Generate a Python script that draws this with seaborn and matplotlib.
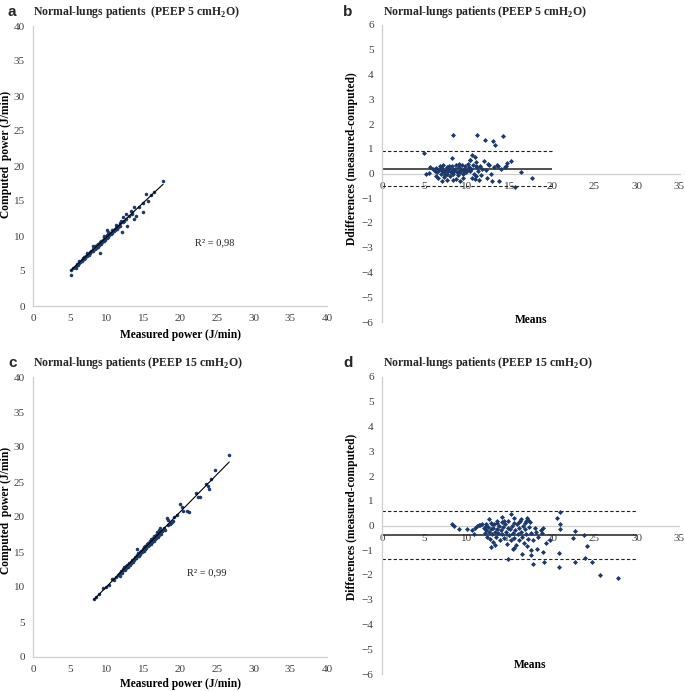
import numpy as np
import pandas as pd
import matplotlib
matplotlib.use("Agg")
import matplotlib.pyplot as plt
import seaborn as sns

# ---------------- data ----------------
# Panel a: PEEP 5, measured vs computed power (J/min)
a_measured = [17.7, 16.4, 15.4, 15.6, 14.9, 15.0, 13.8, 13.8, 14.0, 13.3, 13.5, 12.7, 12.8, 12.6,
              12.3, 12.0, 12.1, 9.1, 5.2, 5.15,
              5.5, 5.7, 5.9, 6.0, 6.1, 6.3, 6.4, 6.5, 6.6, 6.7, 6.8, 6.9, 7.0, 7.1, 7.2, 7.3, 7.4,
              7.5, 7.6, 7.7, 7.8, 7.9, 8.0, 8.1, 8.2, 8.3, 8.4, 8.5, 8.6, 8.7, 8.8, 8.9, 9.0, 9.1,
              9.2, 9.3, 9.4, 9.5, 9.6, 9.7, 9.8, 9.9, 10.0, 10.1, 10.2, 10.3, 10.4, 10.5, 10.6,
              10.7, 10.8, 10.9, 11.0, 11.1, 11.2, 11.3, 11.4, 11.5, 11.6, 11.8, 11.9, 12.2, 12.4,
              8.2, 10.2, 9.6, 7.3, 6.2, 5.8, 11.3, 13.0, 13.5, 14.4, 16.0, 10.1, 8.9, 7.6, 11.7]
a_computed = [17.9, 16.3, 16.0, 15.0, 14.7, 13.5, 14.2, 12.4, 12.8, 13.6, 13.4, 13.1, 11.5, 12.5,
              12.7, 12.2, 10.6, 7.6, 4.5, 5.2,
              5.4, 5.6, 5.7, 6.0, 5.9, 6.2, 6.3, 6.4, 6.6, 6.5, 6.8, 6.7, 7.0, 6.9, 7.2, 7.1, 7.3,
              7.5, 7.4, 7.7, 7.6, 7.9, 7.8, 8.1, 7.9, 8.3, 8.2, 8.6, 8.3, 8.7, 8.5, 8.9, 8.7, 9.1,
              8.9, 9.3, 9.1, 9.5, 9.3, 9.8, 9.5, 9.9, 9.7, 10.1, 9.9, 10.4, 10.1, 10.5, 10.3,
              10.8, 10.5, 10.9, 10.7, 11.0, 10.9, 11.2, 11.0, 11.3, 11.4, 11.5, 11.8, 12.0, 12.2,
              8.6, 10.6, 10.0, 7.6, 6.4, 5.5, 11.6, 12.9, 13.2, 14.2, 15.8, 10.8, 8.6, 7.3, 11.4]

# Panel b: PEEP 5, Bland-Altman (means, differences)
b_means = [8.35, 11.2, 12.1, 13.0, 13.3, 14.2, 4.9, 8.2, 10.6, 10.35, 15.2, 14.75, 14.5, 16.3,
           17.7, 15.6, 13.8, 12.9, 12.4, 10.9, 11.1, 9.2, 8.7, 7.7, 7.1, 6.6, 6.3, 5.2, 5.5, 5.6,
           6.0, 6.2, 6.4, 6.5, 6.7, 6.8, 6.9, 7.0, 7.1, 7.2, 7.3, 7.4, 7.5, 7.6, 7.7, 7.8, 7.9,
           8.0, 8.1, 8.2, 8.3, 8.4, 8.5, 8.6, 8.8, 8.9, 9.0, 9.1, 9.2, 9.3, 9.4, 9.5, 9.6, 9.7,
           9.8, 9.9, 10.0, 10.1, 10.2, 10.4, 10.5, 10.7, 10.8, 11.0, 11.2, 11.3, 11.5, 11.6, 11.8,
           12.0, 12.2, 12.5, 12.6, 12.8, 13.2, 13.5, 13.6, 14.0, 14.6, 11.4, 10.6, 9.5, 8.3, 7.3,
           6.9, 8.7, 9.0, 10.3, 10.9, 11.1, 7.9]
b_diffs = [1.54, 1.56, 1.37, 1.32, 1.15, 1.51, 0.81, 0.62, 0.73, 0.55, 0.51, 0.43, 0.26, 0.08,
           -0.2, -0.54, -0.32, -0.32, -0.19, -0.22, -0.1, -0.31, -0.21, -0.27, -0.32, -0.2, -0.1,
           -0.04, 0.03, 0.27,
           0.18, 0.12, 0.22, 0.05, 0.15, 0.30, 0.0, 0.1, 0.2, 0.35, 0.05, -0.05, 0.15, 0.25, 0.0,
           0.1, 0.2, -0.1, 0.05, 0.3, 0.15, 0.0, 0.1, 0.2, 0.05, -0.05, 0.12, 0.25, 0.05, 0.15,
           0.35, 0.0, 0.2, 0.1, 0.3, 0.05, 0.15, 0.4, 0.25, 0.1, 0.2, 0.35, 0.0, 0.45, 0.25, 0.1,
           0.3, -0.05, 0.2, 0.5, 0.15, 0.4, 0.35, 0.0, 0.25, 0.35, 0.3, 0.2, 0.3, -0.25, -0.2,
           -0.2, -0.25, -0.15, 0.25, 0.35, 0.4, 0.55, 0.65, 0.3, 0.3]
b_bias, b_upper, b_lower = 0.2, 0.9, -0.5
b_line_end = 20

# Panel c: PEEP 15, measured vs computed power (J/min)
c_measured = [8.3, 8.6, 9.0, 9.5, 9.9, 10.3, 10.7, 11.0, 11.3, 11.5, 11.7, 11.8, 12.0, 12.1, 12.2,
              12.3, 12.4, 12.5, 12.6, 12.7, 12.8, 12.9, 13.0, 13.1, 13.2, 13.3, 13.4, 13.5, 13.6,
              13.7, 13.8, 13.9, 14.0, 14.1, 14.1, 14.2, 14.3, 14.4, 14.5, 14.6, 14.7, 14.8, 14.9,
              15.0, 15.1, 15.2, 15.3, 15.4, 15.5, 15.6, 15.7, 15.8, 15.9, 16.0, 16.1, 16.2, 16.3,
              16.4, 16.5, 16.6, 16.7, 16.8, 16.9, 17.0, 17.1, 17.2, 17.3, 17.4, 17.6, 17.8, 18.0,
              18.2, 18.3, 18.4, 18.6, 18.8, 19.0, 19.2, 19.6, 20.0, 20.3, 20.4, 20.9, 21.2, 22.2,
              22.4, 22.7, 23.5, 23.8, 23.9, 24.2, 24.7, 26.7,
              12.9, 13.3, 13.6, 14.0, 14.5, 15.0, 15.3, 15.7, 16.1, 16.6, 17.0, 17.3, 12.1, 12.6,
              13.1, 14.8, 15.6, 16.3, 16.9, 17.5, 18.9, 11.9, 10.9, 15.1]
c_computed = [8.3, 8.6, 9.0, 9.9, 10.0, 10.3, 11.1, 11.0, 11.5, 11.7, 11.9, 11.6, 12.3, 12.0, 12.6,
              12.4, 12.8, 12.5, 13.0, 12.7, 13.2, 12.9, 13.3, 13.5, 13.1, 13.6, 13.4, 13.9, 13.6,
              14.0, 13.8, 14.3, 14.1, 14.6, 15.5, 14.4, 14.8, 14.5, 15.0, 14.7, 15.2, 15.0, 15.5,
              15.2, 15.7, 15.4, 15.9, 15.6, 16.1, 15.8, 16.3, 16.0, 16.6, 16.2, 16.8, 16.4, 17.0,
              16.6, 17.3, 16.8, 17.5, 17.0, 17.8, 17.2, 18.2, 17.4, 18.5, 17.6, 18.0, 18.4, 18.2,
              19.8, 18.8, 19.6, 19.0, 19.2, 19.4, 20.0, 20.3, 21.8, 21.5, 20.8, 20.9, 20.7, 23.5,
              22.8, 22.9, 24.7, 24.5, 24.0, 25.5, 26.7, 28.8,
              13.1, 13.4, 13.9, 14.2, 14.7, 15.3, 15.5, 16.0, 16.4, 17.1, 17.5, 17.7, 12.3, 12.9,
              13.2, 15.1, 16.0, 16.7, 17.2, 18.0, 19.3, 12.0, 11.2, 15.2]

# Panel d: PEEP 15, Bland-Altman (means, differences)
d_means = [8.3, 8.5, 9.05, 10.0, 10.9, 11.4, 11.6, 12.6, 12.8, 13.1, 15.2, 14.9, 16.1, 15.5, 16.5,
           17.1, 17.2, 17.5, 17.5, 17.75, 18.3, 18.2, 19.0, 19.0, 19.1, 19.8, 20.8, 20.9, 21.0,
           21.0, 21.0, 22.8, 22.5, 22.8, 23.8, 23.9, 24.2, 24.8, 25.7, 27.8,
           11.8, 12.0, 12.1, 12.2, 12.3, 12.4, 12.5, 12.6, 12.7, 12.8, 12.9, 13.0, 13.1, 13.2,
           13.3, 13.4, 13.5, 13.6, 13.7, 13.8, 13.9, 14.0, 14.1, 14.2, 14.3, 14.4, 14.5, 14.6,
           14.7, 14.8, 14.9, 15.0, 15.1, 15.2, 15.3, 15.4, 15.5, 15.6, 15.7, 15.8, 15.9, 16.0,
           16.1, 16.2, 16.3, 16.4, 16.5, 16.6, 16.7, 16.8, 16.9, 17.0, 17.1, 17.2, 17.3, 17.4,
           17.6, 17.8, 18.0, 18.4, 18.7, 11.0, 10.6, 11.2, 13.6, 14.4, 15.6, 16.4, 13.3, 15.4,
           14.2, 13.0, 12.3, 17.0, 18.9, 19.3, 20.6]
d_diffs = [0.06, -0.01, -0.15, -0.15, -0.35, 0.02, 0.03, 0.26, -0.85, -0.66, 0.46, -1.36, 0.14,
           -0.92, -1.16, -0.82, 0.23, -1.01, -1.2, -1.54, -0.96, -0.25, -0.12, -1.09, -1.48, -0.58,
           -1.12, -1.66, 0.54, 0.07, -0.15, -0.24, -0.5, -1.46, -0.39, -1.33, -0.81, -1.48, -1.99,
           -2.13,
           0.05, -0.1, -0.3, 0.0, -0.2, -0.45, -0.05, -0.25, -0.55, -0.15, 0.1, -0.35, -0.1, 0.05,
           -0.25, -0.45, 0.1, -0.15, -0.3, 0.0, -0.6, -0.2, 0.15, -0.35, -0.05, -0.5, 0.05, -0.25,
           -0.75, -0.1, 0.2, -0.4, -0.15, -0.6, 0.0, -0.3, 0.1, -0.5, -0.2, -0.8, 0.05, -0.35,
           -0.1, -0.6, 0.2, -0.25, -0.45, 0.0, -0.7, -0.15, 0.1, -0.35, 0.3, -0.55, -0.05, 0.15,
           -0.3, -0.6, -0.1, -0.45, -0.2, -0.1, -0.2, 0.0, 0.2, 0.2, 0.3, 0.25, -0.8, -0.95,
           0.35, 0.05, 0.05, 0.2, -0.3, -0.7, 0.3]
d_bias, d_upper, d_lower = -0.4, 0.57, -1.36
d_line_end = 30

# ---------------- style ----------------
sns.set_theme(style="white")
plt.rcParams["font.family"] = ["Liberation Serif", "DejaVu Serif"]

POINT = "#1b3a6b"
SPINE = "#cfcfcf"
TICKLBL = "#404040"
TFS = 8
MS = 6.5

fig = plt.figure(figsize=(6.85, 6.91), dpi=100)

W, H = 685.0, 691.0
def axes_px(left, top, right, bottom):
    return fig.add_axes([left / W, 1 - bottom / H, (right - left) / W, (bottom - top) / H])

ax_a = axes_px(33, 26, 327, 306)
ax_b = axes_px(382, 25, 679.5, 322)
ax_c = axes_px(33, 377, 327, 657)
ax_d = axes_px(382, 377, 679, 674)

def base_style(ax):
    for s in ["top", "right"]:
        ax.spines[s].set_visible(False)
    for s in ["left", "bottom"]:
        ax.spines[s].set_color(SPINE)
        ax.spines[s].set_linewidth(0.9)
    ax.tick_params(direction="out", length=3.5, width=0.8, color=SPINE,
                   labelcolor=TICKLBL, labelsize=TFS, pad=2.5)
    ax.grid(False)
    ax.set_facecolor("white")

def regression_panel(ax, xs, ys, r2_text, r2_pos, ylab_y, xlab_y):
    df = pd.DataFrame({"measured": xs, "computed": ys})
    sns.regplot(data=df, x="measured", y="computed", ax=ax, ci=None, truncate=True,
                scatter_kws=dict(s=MS, marker="D", color=POINT, linewidths=0, alpha=1),
                line_kws=dict(color="black", lw=0.8))
    base_style(ax)
    ax.set_xlim(0, 40)
    ax.set_ylim(0, 40)
    ax.set_xticks(np.arange(0, 41, 5))
    ax.set_yticks(np.arange(0, 41, 5))
    ax.set_xlabel("Measured power (J/min)", fontsize=8.3, fontweight="bold", color="black")
    ax.set_ylabel("Computed  power (J/min)", fontsize=8.3, fontweight="bold", color="black")
    ax.xaxis.set_label_coords(0.5, xlab_y)
    ax.yaxis.set_label_coords(-0.072, ylab_y)
    ax.text(r2_pos[0], r2_pos[1], r2_text, fontsize=7.5, color="#202020",
            ha="left", va="center")

def ba_panel(ax, means, diffs, bias, upper, lower, line_end, ylabel, ylab_y, xlab_y):
    df = pd.DataFrame({"means": means, "diffs": diffs})
    sns.scatterplot(data=df, x="means", y="diffs", ax=ax, marker="D", s=MS,
                    color=POINT, linewidth=0, zorder=3)
    base_style(ax)
    ax.spines["bottom"].set_position(("data", 0))
    ax.set_xlim(0, 35)
    ax.set_ylim(-6, 6)
    ax.set_xticks(np.arange(0, 36, 5))
    ax.set_yticks(np.arange(-6, 7, 1))
    ax.hlines(bias, 0, line_end, colors="#202020", lw=1.1, zorder=2)
    ax.hlines([upper, lower], 0, line_end, colors="#202020", lw=0.8,
              linestyles=(0, (3, 2)), zorder=2)
    ax.set_xlabel("Means", fontsize=8.3, fontweight="bold", color="black")
    ax.set_ylabel(ylabel, fontsize=8.3, fontweight="bold", color="black")
    ax.xaxis.set_label_coords(0.5, xlab_y)
    ax.yaxis.set_label_coords(-0.08, ylab_y)

regression_panel(ax_a, a_measured, a_computed, "R² = 0,98", (22.0, 9.0), 0.54, -0.083)
regression_panel(ax_c, c_measured, c_computed, "R² = 0,99", (21.0, 12.0), 0.525, -0.075)
ba_panel(ax_b, b_means, b_diffs, b_bias, b_upper, b_lower, b_line_end,
         "Ddifferences (measured-computed)", 0.55, 0.027)
ba_panel(ax_d, d_means, d_diffs, d_bias, d_upper, d_lower, d_line_end,
         "Differences (measured-computed)", 0.53, 0.05)

# panel letters and titles
titles = [("a", "Normal-lungs patients  (PEEP 5 cmH$_\\mathregular{2}$O)", 8, 33, 12),
          ("b", "Normal-lungs patients (PEEP 5 cmH$_\\mathregular{2}$O)", 343, 383, 12),
          ("c", "Normal-lungs patients (PEEP 15 cmH$_\\mathregular{2}$O)", 8, 33, 363),
          ("d", "Normal-lungs patients (PEEP 15 cmH$_\\mathregular{2}$O)", 343, 383, 363)]
for letter, title, lx, tx, ty in titles:
    fig.text(lx / W, 1 - ty / H, letter, fontsize=11, fontweight="bold",
             family=["Liberation Sans", "DejaVu Sans"], ha="left", va="center")
    fig.text(tx / W, 1 - ty / H, title, fontsize=8.5, fontweight="bold",
             ha="left", va="center")

fig.savefig("out.png", dpi=100, facecolor="white")
